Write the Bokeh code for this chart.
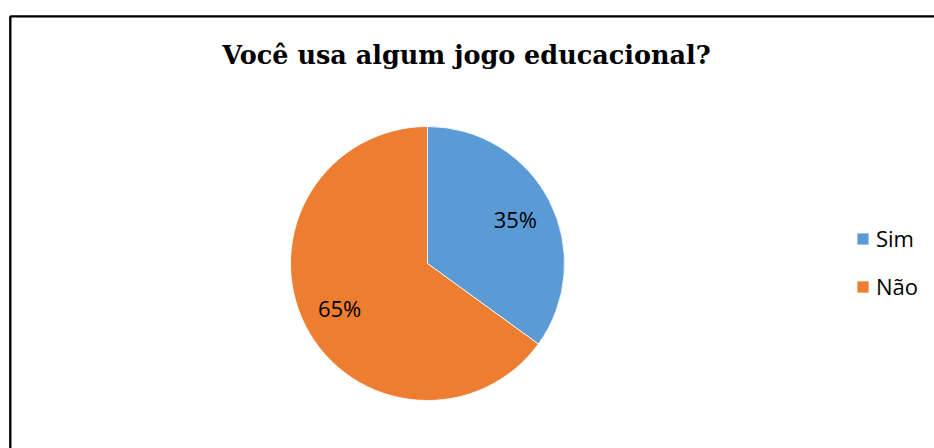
import math
from bokeh.plotting import figure
from bokeh.models import ColumnDataSource, Range1d, Label, Legend, LegendItem
from bokeh.embed import file_html
from bokeh.resources import INLINE

# ---- data ----
categories = ["Sim", "Não"]
values = [35, 65]
colors = ["#5B9BD5", "#ED7D31"]
title_text = "Você usa algum jogo educacional?"

W, H = 934, 448
p = figure(width=W, height=H, output_backend="svg", toolbar_location=None,
           x_range=Range1d(0, W), y_range=Range1d(0, H), min_border=0)
p.axis.visible = False
p.grid.visible = False
p.outline_line_color = None
p.background_fill_color = "white"
p.border_fill_color = "white"

# border of the chart area (only left and top visible in the window)
p.line(x=[9.8, 9.8, W + 20], y=[-20, H - 15.9, H - 15.9], line_color="black", line_width=2.4)

# pie
cx, cy, r = 427, 185, 137
total = sum(values)
starts, ends, lx, ly, labels = [], [], [], [], []
cum = 0.0
for v in values:
    a0 = math.pi / 2 - 2 * math.pi * cum / total
    cum += v
    a1 = math.pi / 2 - 2 * math.pi * cum / total
    starts.append(a0)
    ends.append(a1)
    mid = (a0 + a1) / 2
    lx.append(cx + 0.72 * r * math.cos(mid))
    ly.append(cy + 0.72 * r * math.sin(mid))
    labels.append(f"{round(100 * v / total)}%")

src = ColumnDataSource(dict(cat=categories, val=values, color=colors,
                            start=starts, end=ends, lx=lx, ly=ly, lab=labels))
w = p.wedge(x=cx, y=cy, radius=r, start_angle="start", end_angle="end",
            direction="clock", fill_color="color", line_color="white",
            line_width=0.8, source=src)

p.text(x="lx", y="ly", text="lab", source=src, text_align="center",
       text_baseline="middle", text_font_size="22px",
       text_font={"value": "Open Sans"}, text_color="black")

# title
p.add_layout(Label(x=466, y=394, text=title_text, text_align="center",
                   text_baseline="alphabetic", text_font="DejaVu Serif",
                   text_font_style="bold", text_font_size="25.5px",
                   text_color="black"))

# legend
items = [LegendItem(label=c, renderers=[w], index=i) for i, c in enumerate(categories)]
legend = Legend(items=items, location=(855, 147), orientation="vertical",
                padding=0, margin=0, border_line_color=None,
                background_fill_alpha=0, glyph_width=15, glyph_height=15,
                label_height=24, spacing=18, label_standoff=6,
                label_text_font="Open Sans", label_text_font_size="22px",
                label_text_color="black")
p.add_layout(legend)

open("out.html", "w").write(file_html(p, INLINE))
